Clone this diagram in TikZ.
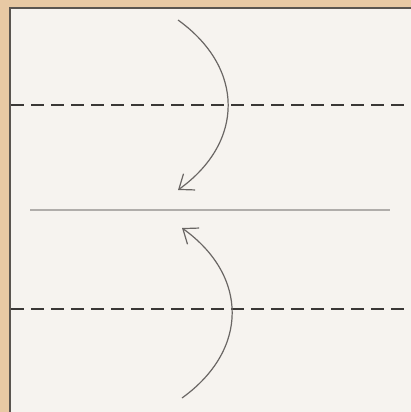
\documentclass[tikz,border=0pt]{standalone}
\usetikzlibrary{arrows.meta}
\definecolor{paper}{HTML}{F6F3EF}
\definecolor{tan}{HTML}{E8C9A4}
\definecolor{frameline}{HTML}{5A5550}
\definecolor{curvecol}{HTML}{6A6664}
\definecolor{dashcol}{HTML}{3A3836}
\definecolor{foldcol}{HTML}{B0ADAA}
\tikzset{
  foldarrow/.style={draw=curvecol, line width=1.2pt, -{Straight Barb[length=13pt,width=20pt,line width=1.2pt]}},
  dashline/.style={draw=dashcol, line width=1.2pt, dash pattern=on 13pt off 7pt},
  midline/.style={draw=foldcol, line width=1.1pt}
}
\begin{document}
\begin{tikzpicture}[x=1pt,y=-1pt]
\useasboundingbox (0,0) rectangle (411,412);
\fill[tan] (0,0) rectangle (411,412);
\fill[paper] (10,8) rectangle (411,412);
\draw[frameline, line width=1.5pt] (10,412) -- (10,8) -- (411,8);
% dashed lines
\coordinate (d1a) at (11,105); \coordinate (d1b) at (411,105);
\coordinate (d2a) at (11,309); \coordinate (d2b) at (411,309);
\draw[dashline] (d1a) -- (d1b);
\draw[dashline] (d2a) -- (d2b);
% middle line
\coordinate (m1) at (30,210); \coordinate (m2) at (390,210);
\draw[midline] (m1) -- (m2);
% arrows
\coordinate (a1s) at (178,20); \coordinate (a1e) at (178,190);
\coordinate (a2s) at (182,398); \coordinate (a2e) at (182,228);
\draw[foldarrow] (a1s) .. controls (244.7,68) and (244.7,142) .. (a1e);
\draw[foldarrow] (a2s) .. controls (248.7,350) and (248.7,276) .. (a2e);
\end{tikzpicture}
\end{document}
